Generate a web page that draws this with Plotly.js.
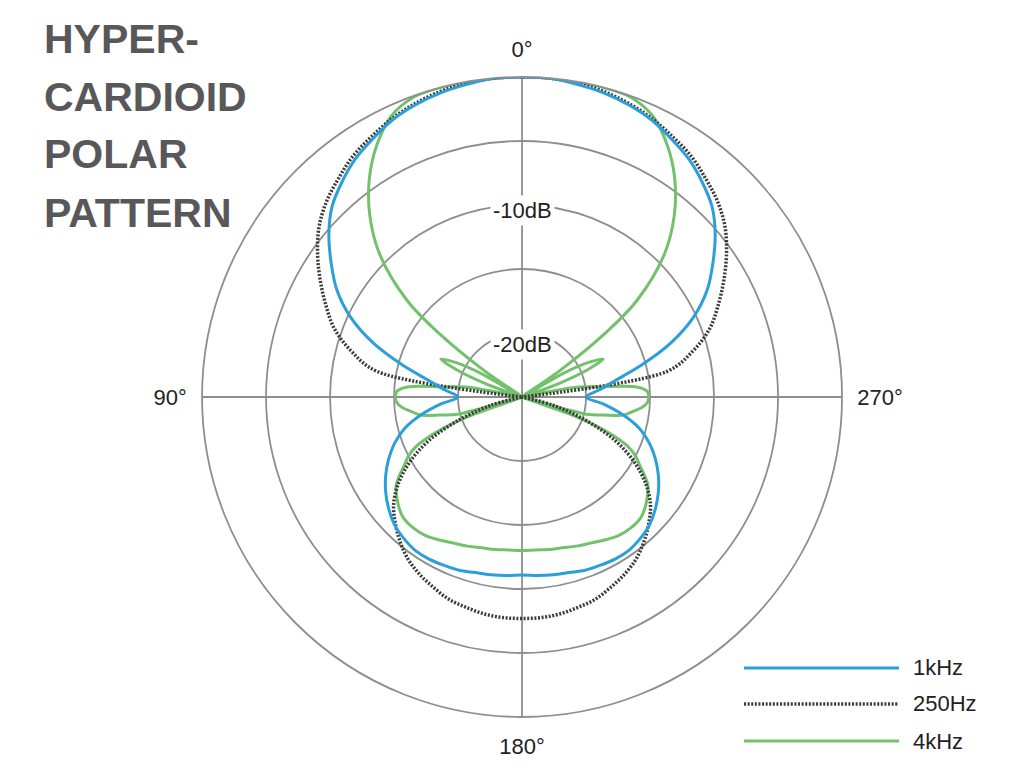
<!DOCTYPE html>
<html><head><meta charset="utf-8">
<script src="https://cdn.plot.ly/plotly-3.0.1.min.js"></script>
<style>html,body{margin:0;padding:0;background:#fff}#chart{width:1024px;height:783px}</style>
</head><body><div id="chart"></div>
<script>
const titleLines = ["HYPER-", "CARDIOID", "POLAR", "PATTERN"];
const angleTicks = [0, 90, 180, 270];
const angleTickText = ["0°", "90°", "180°", "270°"];
const dbRange = [-25, 0];
const dbRings = [-20, -15, -10, -5, 0];
const dbLabelText = ["-10dB", "-20dB"];
const seriesNames = ["1kHz", "250Hz", "4kHz"];
const seriesColors = ["#2a9fda", "#3c3c3c", "#72c26b"];

const thetaStd = [0,5,10,15,20,25,30,35,40,45,50,55,60,65,70,75,80,85,90,95,100,105,110,115,120,125,130,135,140,145,150,155,160,165,170,175,180,
  185,190,195,200,205,210,215,220,225,230,235,240,245,250,255,260,265,270,275,280,285,290,295,300,305,310,315,320,325,330,335,340,345,350,355,360];

const r1kHz = [0,0,-0.2,-0.4,-0.7,-1.1,-1.7,-2.3,-3.1,-4.0,-5.3,-6.8,-8.3,-10.2,-12.6,-15.3,-17.6,-19.0,-20.0,-18.6,-17.0,-15.5,-14.4,-13.5,-12.7,-12.0,-11.4,-10.9,-10.6,-10.4,-10.4,-10.5,-10.6,-10.8,-10.9,-11.0,-11.1,
  -11.0,-10.9,-10.8,-10.6,-10.5,-10.4,-10.4,-10.6,-10.9,-11.4,-12.0,-12.7,-13.5,-14.4,-15.5,-17.0,-18.6,-20.0,-19.0,-17.6,-15.3,-12.6,-10.2,-8.3,-6.8,-5.3,-4.0,-3.1,-2.3,-1.7,-1.1,-0.7,-0.4,-0.2,0,0];

const r250Hz = [0,0,-0.1,-0.3,-0.6,-1.0,-1.5,-2.0,-2.7,-3.4,-4.3,-5.5,-6.8,-8.1,-9.4,-11.2,-13.5,-25,-25,-25,-25,-22.5,-19.8,-17.0,-14.9,-13.2,-11.9,-11.0,-10.2,-9.5,-9.0,-8.6,-8.2,-8.0,-7.8,-7.7,-7.7,
  -7.7,-7.8,-8.0,-8.2,-8.6,-9.0,-9.5,-10.2,-11.0,-11.9,-13.2,-14.9,-17.0,-19.8,-22.5,-25,-25,-25,-25,-13.5,-11.2,-9.4,-8.1,-6.8,-5.5,-4.3,-3.4,-2.7,-2.0,-1.5,-1.0,-0.6,-0.3,-0.1,0,0];

const theta4k = [0,5,10,15,20,25,30,35,40,45,50,52.5,55,57.5,60,62.5,65,67.5,70,72.5,77.5,80,82.5,85,87.5,90,92.5,95,97.5,100,102.5,105,107.5,110,112.5,115,117.5,120,125,130,135,140,145,150,155,160,165,170,175,180,
  185,190,195,200,205,210,215,220,225,230,235,240,242.5,245,247.5,250,252.5,255,257.5,260,262.5,265,267.5,270,272.5,275,277.5,280,282.5,287.5,290,292.5,295,297.5,300,302.5,305,307.5,310,315,320,325,330,335,340,345,350,355,360];

const r4kHz = [0,0,0,0,-0.1,-0.8,-2.3,-4.2,-6.5,-9.3,-13.3,-16.8,-21.3,-25,-21.5,-19.2,-18.0,-19.5,-22.0,-25,-25,-20.5,-19.0,-16.0,-15.2,-15.1,-15.2,-15.6,-16.3,-16.9,-18.5,-19.8,-25,-20.3,-17.6,-15.9,-15.0,-14.4,-13.0,-12.3,-11.8,-11.7,-11.8,-12.1,-12.4,-12.6,-12.8,-12.9,-13.0,-13.0,
  -13.0,-12.9,-12.8,-12.6,-12.4,-12.1,-11.8,-11.7,-11.8,-12.3,-13.0,-14.4,-15.0,-15.9,-17.6,-20.3,-25,-19.8,-18.5,-16.9,-16.3,-15.6,-15.2,-15.1,-15.2,-16.0,-19.0,-20.5,-25,-25,-22.0,-19.5,-18.0,-19.2,-21.5,-25,-21.3,-16.8,-13.3,-9.3,-6.5,-4.2,-2.3,-0.8,-0.1,0,0,0,0];

const FONT = "Liberation Sans, Arial, Helvetica, sans-serif";
const GRID = "#8e8e8e";

const traces = [
  {type:"scatterpolar", mode:"lines", name:seriesNames[2], theta:theta4k, r:r4kHz,
   line:{color:seriesColors[2], width:3, shape:"spline", smoothing:1}, showlegend:false, hoverinfo:"skip"},
  {type:"scatterpolar", mode:"lines", name:seriesNames[1], theta:thetaStd, r:r250Hz,
   line:{color:seriesColors[1], width:3.5, dash:"2px,1.6px", shape:"spline", smoothing:1}, showlegend:false, hoverinfo:"skip"},
  {type:"scatterpolar", mode:"lines", name:seriesNames[0], theta:thetaStd, r:r1kHz,
   line:{color:seriesColors[0], width:3, shape:"spline", smoothing:1}, showlegend:false, hoverinfo:"skip"}
];

const annotations = [];
const titleY = [0.9502, 0.8761, 0.8033, 0.728];
titleLines.forEach((t, i) => annotations.push({
  xref:"paper", yref:"paper", x:0.041, y:titleY[i], xanchor:"left", yanchor:"middle",
  text:t, showarrow:false, font:{family:FONT, size:41, color:"#58585a", weight:"bold"}
}));
const dbLabelY = [0.7318, 0.5594];
dbLabelText.forEach((t, i) => annotations.push({
  xref:"paper", yref:"paper", x:0.5098, y:dbLabelY[i], xanchor:"center", yanchor:"middle",
  text:t, showarrow:false, bgcolor:"#ffffff", borderpad:2,
  font:{family:FONT, size:22, color:"#222"}
}));

const shapes = [];
const legendY = [0.1469, 0.1009, 0.0536];
const legendDash = ["solid", "2px,1.6px", "solid"];
const legendWidth = [3, 3.5, 3];
seriesNames.forEach((n, i) => {
  shapes.push({type:"line", xref:"paper", yref:"paper", x0:0.7266, x1:0.8779, y0:legendY[i], y1:legendY[i],
    line:{color:seriesColors[i], width:legendWidth[i], dash:legendDash[i]}});
  annotations.push({xref:"paper", yref:"paper", x:0.8896, y:legendY[i], xanchor:"left", yanchor:"middle",
    text:n, showarrow:false, font:{family:FONT, size:22, color:"#222"}});
});

const layout = {
  width:1024, height:783,
  margin:{l:0, r:0, t:0, b:0},
  paper_bgcolor:"#ffffff",
  showlegend:false,
  polar:{
    domain:{x:[0.1973, 0.8223], y:[0.0843, 0.9017]},
    bgcolor:"#ffffff",
    radialaxis:{range:dbRange, tickvals:dbRings, showticklabels:false, ticks:"",
      showline:false, gridcolor:GRID, gridwidth:1.8},
    angularaxis:{rotation:90, direction:"counterclockwise", tickvals:angleTicks, ticktext:angleTickText,
      ticks:"outside", ticklen:10, tickcolor:"rgba(0,0,0,0)",
      showline:true, linecolor:GRID, linewidth:1.8, gridcolor:GRID, gridwidth:1.8,
      tickfont:{family:FONT, size:22, color:"#222"}}
  },
  annotations:annotations,
  shapes:shapes
};

Plotly.newPlot("chart", traces, layout, {staticPlot:true, displayModeBar:false});
</script>
</body></html>
